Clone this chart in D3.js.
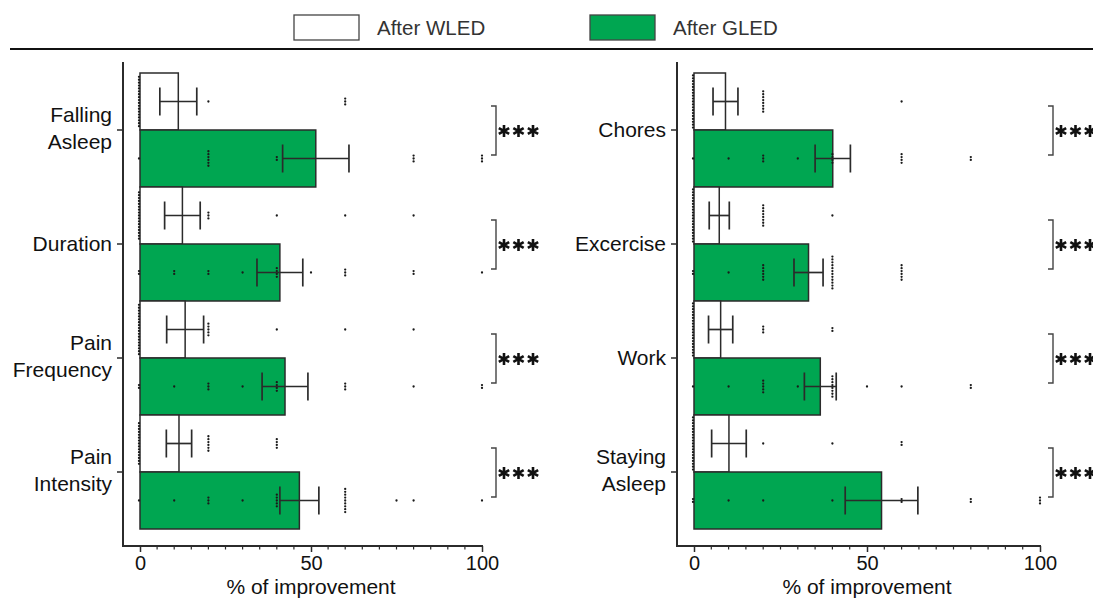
<!DOCTYPE html>
<html>
<head>
<meta charset="utf-8">
<script src="https://cdn.jsdelivr.net/npm/d3@7"></script>
<style>
  body { margin: 0; background: #fff; }
  svg { display: block; font-family: "Liberation Sans", Arial, sans-serif; }
</style>
</head>
<body>
<svg id="chart" width="1093" height="598"></svg>
<script>
// categories per panel
const catsLeft = ["Falling Asleep", "Duration", "Pain Frequency", "Pain Intensity"];
const catsRight = ["Chores", "Excercise", "Work", "Staying Asleep"];

// means and SEM (% of improvement)
const meanWLEDLeft = [11.2, 12.4, 13.2, 11.4];
const semWLEDLeft = [5.4, 5.2, 5.4, 3.7];
const meanGLEDLeft = [51.4, 40.9, 42.4, 46.6];
const semGLEDLeft = [9.7, 6.7, 6.7, 5.7];

const meanWLEDRight = [9.1, 7.3, 7.7, 10.1];
const semWLEDRight = [3.6, 2.9, 3.5, 5.0];
const meanGLEDRight = [40.1, 33.1, 36.5, 54.2];
const semGLEDRight = [5.1, 4.2, 4.6, 10.5];

// individual points as [value, count]
const dotsWLEDLeft = [
  [[0, 18], [20, 1], [60, 3]],
  [[0, 17], [20, 3], [40, 1], [60, 1], [80, 1]],
  [[0, 18], [20, 5], [40, 1], [60, 1], [80, 1]],
  [[0, 15], [20, 6], [40, 4]]
];
const dotsGLEDLeft = [
  [[0, 1], [20, 6], [40, 2], [80, 3], [100, 3]],
  [[0, 2], [10, 2], [20, 2], [30, 1], [40, 4], [50, 1], [60, 3], [80, 2], [100, 1]],
  [[0, 2], [10, 1], [20, 3], [30, 1], [40, 4], [60, 3], [80, 1], [100, 2]],
  [[0, 1], [10, 1], [20, 3], [30, 1], [40, 5], [60, 9], [75, 1], [80, 1], [100, 1]]
];
const dotsWLEDRight = [
  [[0, 19], [20, 8], [60, 1]],
  [[0, 19], [20, 8], [40, 1]],
  [[0, 19], [20, 3], [40, 2]],
  [[0, 19], [20, 1], [40, 1], [60, 2]]
];
const dotsGLEDRight = [
  [[0, 1], [10, 1], [20, 3], [30, 1], [40, 4], [60, 4], [80, 2]],
  [[0, 2], [10, 1], [20, 6], [40, 12], [60, 6]],
  [[0, 1], [10, 1], [20, 5], [30, 1], [40, 8], [50, 1], [60, 1], [80, 2]],
  [[0, 2], [10, 1], [20, 1], [40, 1], [60, 2], [80, 2], [100, 3]]
];

const xTicks = [0, 50, 100];
const groups = ["After WLED", "After GLED"];
const green = "#00a651";
const ink = "#2b2b2b";

const svg = d3.select("#chart");

// legend
const legend = [
  { label: groups[0], fill: "#fff", x: 294 },
  { label: groups[1], fill: green, x: 590 }
];
legend.forEach(l => {
  svg.append("rect")
    .attr("x", l.x).attr("y", 15)
    .attr("width", 65).attr("height", 25)
    .attr("fill", l.fill).attr("stroke", "#444").attr("stroke-width", 1.3);
  svg.append("text")
    .attr("x", l.x + 83).attr("y", 28)
    .attr("dy", "0.35em")
    .attr("font-size", 20.5)
    .attr("fill", "#333")
    .text(l.label);
});
svg.append("line")
  .attr("x1", 10).attr("x2", 1093)
  .attr("y1", 49).attr("y2", 49)
  .attr("stroke", "#111").attr("stroke-width", 2);

const panels = [
  { cats: catsLeft, axisX: 123, xRange: [140, 482],
    meanW: meanWLEDLeft, semW: semWLEDLeft, meanG: meanGLEDLeft, semG: semGLEDLeft,
    dotsW: dotsWLEDLeft, dotsG: dotsGLEDLeft, bracketX: 496 },
  { cats: catsRight, axisX: 677, xRange: [694, 1040],
    meanW: meanWLEDRight, semW: semWLEDRight, meanG: meanGLEDRight, semG: semGLEDRight,
    dotsW: dotsWLEDRight, dotsG: dotsGLEDRight, bracketX: 1053 }
];

panels.forEach(p => {
  const x = d3.scaleLinear().domain([0, 100]).range(p.xRange);
  const y = d3.scaleBand().domain(p.cats).range([73, 529]);
  const sub = d3.scaleBand().domain(["W", "G"]).range([0, y.bandwidth()]);

  const rows = [];
  p.cats.forEach((c, i) => {
    rows.push({ cat: c, grp: "W", mean: p.meanW[i], sem: p.semW[i], dots: p.dotsW[i] });
    rows.push({ cat: c, grp: "G", mean: p.meanG[i], sem: p.semG[i], dots: p.dotsG[i] });
  });
  const yc = d => y(d.cat) + sub(d.grp) + sub.bandwidth() / 2;

  const g = svg.append("g");

  g.selectAll(".bar")
    .data(rows)
    .enter()
    .append("rect")
    .attr("class", "bar")
    .attr("x", x(0))
    .attr("y", d => y(d.cat) + sub(d.grp))
    .attr("width", d => x(d.mean) - x(0))
    .attr("height", sub.bandwidth())
    .attr("fill", d => d.grp === "W" ? "#fff" : green)
    .attr("stroke", ink)
    .attr("stroke-width", 1.5);

  // stacked points
  const pts = [];
  rows.forEach(r => {
    r.dots.forEach(([v, n]) => {
      for (let k = 0; k < n; k++) {
        pts.push({ v: v, cy: yc(r) + (k - (n - 1) / 2) * 2.9 });
      }
    });
  });
  g.selectAll(".pt")
    .data(pts)
    .enter()
    .append("circle")
    .attr("class", "pt")
    .attr("cx", d => x(d.v) - (d.v === 0 ? 1 : 0))
    .attr("cy", d => d.cy)
    .attr("r", 1.15)
    .attr("fill", "#1a1a1a");

  // error bars
  const eb = g.selectAll(".eb")
    .data(rows)
    .enter()
    .append("g")
    .attr("class", "eb")
    .attr("stroke", ink)
    .attr("stroke-width", 1.7);
  eb.append("line")
    .attr("x1", d => x(d.mean - d.sem)).attr("x2", d => x(d.mean + d.sem))
    .attr("y1", yc).attr("y2", yc);
  eb.append("line")
    .attr("x1", d => x(d.mean - d.sem)).attr("x2", d => x(d.mean - d.sem))
    .attr("y1", d => yc(d) - 14).attr("y2", d => yc(d) + 14);
  eb.append("line")
    .attr("x1", d => x(d.mean + d.sem)).attr("x2", d => x(d.mean + d.sem))
    .attr("y1", d => yc(d) - 14).attr("y2", d => yc(d) + 14);

  // y axis
  const yAxis = g.append("g")
    .attr("transform", `translate(${p.axisX},0)`)
    .call(d3.axisLeft(y).tickSize(6).tickPadding(5).tickSizeOuter(0));
  yAxis.select(".domain").remove();
  yAxis.selectAll(".tick line").attr("stroke", ink).attr("stroke-width", 1.5);
  yAxis.selectAll(".tick text")
    .attr("font-size", 21)
    .attr("fill", "#111")
    .attr("font-family", null)
    .each(function (d) {
      const t = d3.select(this);
      const words = d.split(" ");
      t.text(null);
      if (words.length === 1) {
        t.append("tspan").attr("x", -11).attr("y", 0).attr("dy", "0.35em").text(d);
      } else {
        t.append("tspan").attr("x", -11).attr("y", -15).attr("dy", "0.35em").text(words[0]);
        t.append("tspan").attr("x", -11).attr("y", 12).attr("dy", "0.35em").text(words[1]);
      }
    });
  g.append("line")
    .attr("x1", p.axisX).attr("x2", p.axisX)
    .attr("y1", 62).attr("y2", 547)
    .attr("stroke", ink).attr("stroke-width", 2);

  // x axis
  const xAxis = g.append("g")
    .attr("transform", "translate(0,546)")
    .call(d3.axisBottom(x).tickValues(xTicks).tickSize(6).tickPadding(4).tickSizeOuter(0));
  xAxis.select(".domain").remove();
  xAxis.selectAll(".tick line").attr("stroke", ink).attr("stroke-width", 1.5);
  xAxis.selectAll(".tick text")
    .attr("font-size", 20)
    .attr("fill", "#111")
    .attr("font-family", null);
  g.append("g")
    .attr("transform", "translate(0,546)")
    .selectAll("line")
    .data(d3.range(0, 101, 5).filter(v => !xTicks.includes(v)))
    .enter()
    .append("line")
    .attr("x1", d => x(d)).attr("x2", d => x(d))
    .attr("y1", 0).attr("y2", 3.5)
    .attr("stroke", ink).attr("stroke-width", 1.2);
  g.append("line")
    .attr("x1", p.axisX - 1).attr("x2", x(100) + 1)
    .attr("y1", 546).attr("y2", 546)
    .attr("stroke", ink).attr("stroke-width", 2);
  g.append("text")
    .attr("x", (x(0) + x(100)) / 2)
    .attr("y", 594)
    .attr("text-anchor", "middle")
    .attr("font-size", 21)
    .attr("fill", "#111")
    .text("% of improvement");

  // significance brackets
  p.cats.forEach(c => {
    const cy = y(c) + y.bandwidth() / 2;
    const bx = p.bracketX;
    g.append("path")
      .attr("d", `M${bx - 5},${cy - 24}H${bx}V${cy + 25}H${bx - 5}`)
      .attr("fill", "none")
      .attr("stroke", "#444")
      .attr("stroke-width", 1.4);
    [0, 1, 2].forEach(k => {
      g.append("path")
        .attr("transform", `translate(${bx + 8 + k * 14.5},${cy + 1})`)
        .attr("d", d3.symbol(d3.symbolAsterisk, 100)())
        .attr("fill", "none")
        .attr("stroke", "#111")
        .attr("stroke-width", 2.6);
    });
  });
});
</script>
</body>
</html>
